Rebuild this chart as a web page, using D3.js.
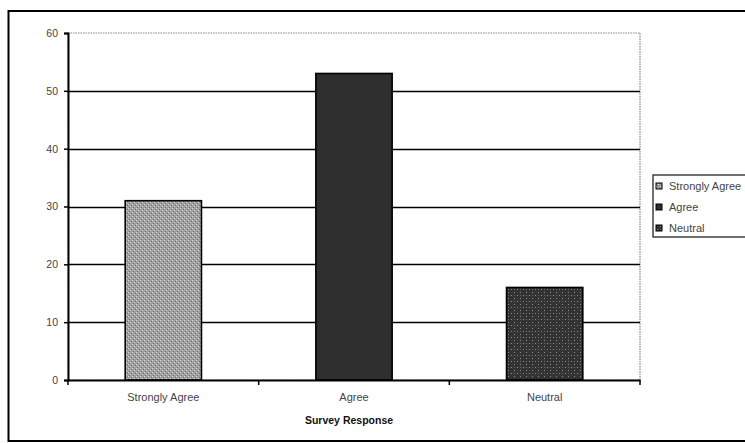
<!DOCTYPE html>
<html>
<head>
<meta charset="utf-8">
<script src="https://cdn.jsdelivr.net/npm/d3@7"></script>
<style>
  html, body { margin: 0; padding: 0; background: #fff; }
  svg { display: block; font-family: "Liberation Sans", Arial, sans-serif; }
</style>
</head>
<body>
<svg id="chart" width="745" height="443"></svg>
<script>
// Survey responses (count per answer)
const categories = ["Strongly Agree", "Agree", "Neutral"];
const counts = [31, 53, 16];
const yTicks = [0, 10, 20, 30, 40, 50, 60];
const axisTitle = "Survey Response";

const svg = d3.select("#chart");
const fontFamily = "Liberation Sans, Arial, sans-serif";

// fill patterns for each bar
const defs = svg.append("defs");
const p1 = defs.append("pattern").attr("id", "pat0")
  .attr("width", 4).attr("height", 4).attr("patternUnits", "userSpaceOnUse");
p1.append("rect").attr("width", 4).attr("height", 4).attr("fill", "#a0a0a0");
p1.append("rect").attr("x", 0).attr("y", 0).attr("width", 1).attr("height", 1).attr("fill", "#d8d8d8");
p1.append("rect").attr("x", 2).attr("y", 2).attr("width", 1).attr("height", 1).attr("fill", "#d8d8d8");
p1.append("rect").attr("x", 1).attr("y", 3).attr("width", 1).attr("height", 1).attr("fill", "#6a6a6a");
p1.append("rect").attr("x", 3).attr("y", 1).attr("width", 1).attr("height", 1).attr("fill", "#6a6a6a");

const p3 = defs.append("pattern").attr("id", "pat2")
  .attr("width", 6).attr("height", 6).attr("patternUnits", "userSpaceOnUse");
p3.append("rect").attr("width", 6).attr("height", 6).attr("fill", "#333");
p3.append("rect").attr("x", 1).attr("y", 1).attr("width", 1).attr("height", 1).attr("fill", "#8a8a8a");
p3.append("rect").attr("x", 4).attr("y", 4).attr("width", 1).attr("height", 1).attr("fill", "#8a8a8a");
p3.append("rect").attr("x", 4).attr("y", 1).attr("width", 1).attr("height", 1).attr("fill", "#6a6a6a");

const fills = ["url(#pat0)", "#2f2f2f", "url(#pat2)"];

// outer chart frame
svg.append("rect").attr("x", 8.5).attr("y", 11).attr("width", 745).attr("height", 430)
  .attr("fill", "none").attr("stroke", "#000").attr("stroke-width", 2);

const plot = { left: 68, right: 640, top: 33, bottom: 380 };

const x = d3.scaleBand().domain(categories).range([plot.left, plot.right]).paddingInner(0.6).paddingOuter(0.3);
const xb = d3.scaleBand().domain(categories).range([plot.left, plot.right]);
const y = d3.scaleLinear().domain([0, 60]).range([plot.bottom, plot.top]);

// plot area border (dotted gray)
svg.append("rect").attr("x", plot.left).attr("y", plot.top)
  .attr("width", plot.right - plot.left).attr("height", plot.bottom - plot.top)
  .attr("fill", "none").attr("stroke", "#888").attr("stroke-width", 1.2).attr("stroke-dasharray", "1.5,1");

// gridlines
svg.append("g").selectAll("line").data(yTicks.filter(t => t > 0 && t < 60)).join("line")
  .attr("x1", plot.left).attr("x2", plot.right)
  .attr("y1", d => Math.round(y(d)) + 0.5).attr("y2", d => Math.round(y(d)) + 0.5)
  .attr("stroke", "#000").attr("stroke-width", 1.6);

// bars
svg.append("g").selectAll("rect").data(categories).join("rect")
  .attr("x", d => x(d)).attr("y", (d, i) => y(counts[i]))
  .attr("width", x.bandwidth()).attr("height", (d, i) => y(0) - y(counts[i]))
  .attr("fill", (d, i) => fills[i]).attr("stroke", "#000").attr("stroke-width", 1.6);

// y axis
const yAxis = svg.append("g").attr("transform", `translate(${plot.left},0)`)
  .call(d3.axisLeft(y).tickValues(yTicks).tickSize(4).tickPadding(6));
yAxis.select(".domain").attr("stroke", "#000").attr("stroke-width", 2);
yAxis.selectAll(".tick line").attr("stroke", "#000").attr("stroke-width", 1.5);
yAxis.selectAll("text").attr("font-size", 10.5).attr("fill", "#444")
  .attr("font-family", fontFamily);

// x axis
const xAxis = svg.append("g").attr("transform", `translate(0,${plot.bottom})`)
  .call(d3.axisBottom(xb).tickSize(0).tickPadding(13));
xAxis.select(".domain").attr("stroke", "#000").attr("stroke-width", 2);
xAxis.selectAll("text").attr("font-size", 11).attr("fill", "#444")
  .attr("font-family", fontFamily);

// category boundary tick marks
const bounds = [plot.left, ...categories.map(c => xb(c) + xb.bandwidth())];
svg.append("g").selectAll("line").data(bounds).join("line")
  .attr("x1", d => d).attr("x2", d => d)
  .attr("y1", plot.bottom).attr("y2", plot.bottom + 5)
  .attr("stroke", "#000").attr("stroke-width", 1.5);

// axis title
svg.append("text").attr("x", 349).attr("y", 424).attr("text-anchor", "middle")
  .attr("font-size", 10.5).attr("font-weight", "bold").attr("fill", "#111").text(axisTitle);

// legend
const legend = svg.append("g");
legend.append("rect").attr("x", 653).attr("y", 175).attr("width", 110).attr("height", 62)
  .attr("fill", "#fff").attr("stroke", "#111").attr("stroke-width", 1.2);
const items = legend.selectAll("g.item").data(categories).join("g").attr("class", "item")
  .attr("transform", (d, i) => `translate(656,${186 + i * 21})`);
items.append("rect").attr("x", 0).attr("y", -3).attr("width", 6).attr("height", 6)
  .attr("fill", (d, i) => fills[i]).attr("stroke", "#000").attr("stroke-width", 1);
items.append("text").attr("x", 13).attr("y", 4).attr("font-size", 11).attr("fill", "#444")
  .text(d => d);
</script>
</body>
</html>
